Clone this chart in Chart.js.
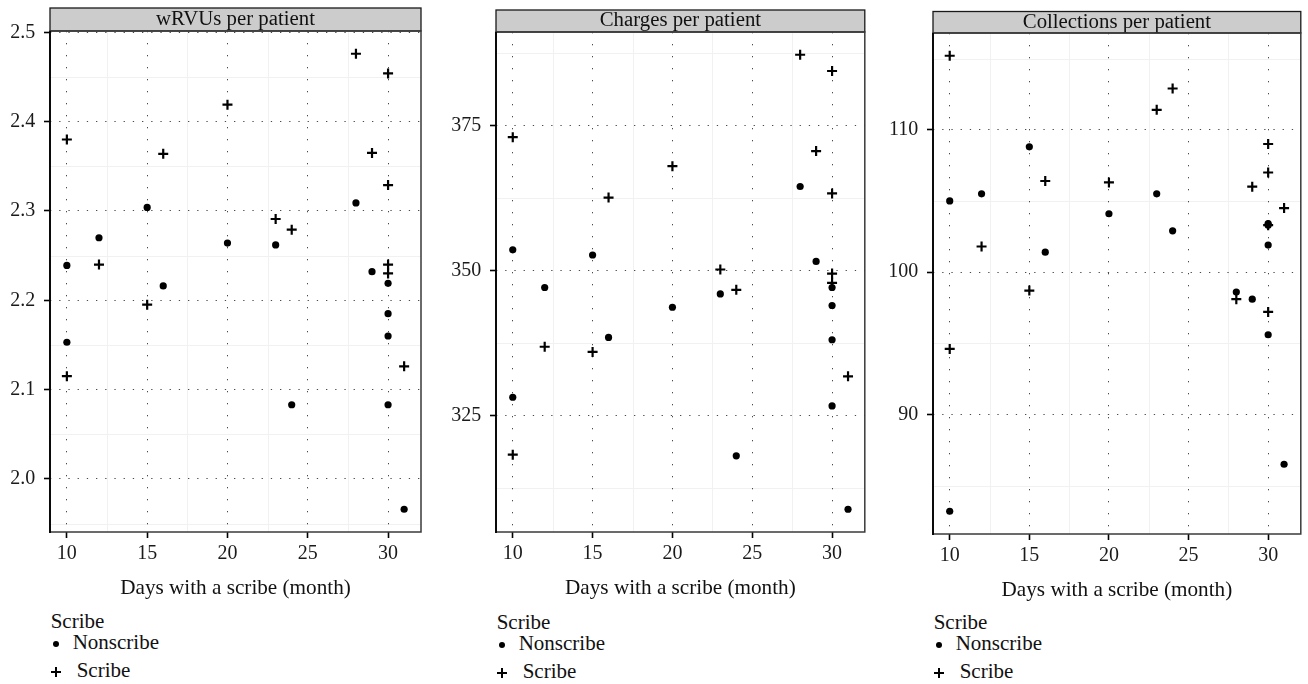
<!DOCTYPE html>
<html>
<head>
<meta charset="utf-8">
<script src="https://cdn.jsdelivr.net/npm/chart.js@4.4.0/dist/chart.umd.min.js"></script>
<style>
    body { margin: 0; background: #fff; width: 1308px; height: 684px; position: relative; overflow: hidden; font-family: "Liberation Serif", serif; }
    canvas { position: absolute; top: 0; }
    .leg { position: absolute; font-size: 21px; line-height: 20px; color: #111; white-space: nowrap; }
    .dot { position: absolute; width: 6px; height: 6px; border-radius: 50%; background: #000; }
    .plus { position: absolute; width: 10px; height: 10px; }
    .plus::before, .plus::after { content: ''; position: absolute; background: #000; }
    .plus::before { left: 0; top: 4px; width: 10px; height: 2px; }
    .plus::after { left: 4px; top: 0; width: 2px; height: 10px; }
</style>
</head>
<body>
<canvas id="c1"></canvas>
<canvas id="c2"></canvas>
<canvas id="c3"></canvas>

<script>
const SERIF = '"Liberation Serif", "Times New Roman", serif';

// days with a scribe in the month, one entry per point
const nonscribeDays = [10, 10, 12, 15, 16, 20, 23, 24, 28, 29, 30, 30, 30, 30, 31];
const scribeDays = [10, 10, 12, 15, 16, 20, 23, 24, 28, 29, 30, 30, 30, 30, 31];
const xTicks = [10, 15, 20, 25, 30];

const wrvuNonscribe = [2.239, 2.153, 2.270, 2.304, 2.216, 2.264, 2.262, 2.083, 2.309, 2.232, 2.219, 2.185, 2.160, 2.083, 1.966];
const wrvuScribe = [2.380, 2.115, 2.240, 2.195, 2.364, 2.419, 2.291, 2.279, 2.476, 2.365, 2.454, 2.329, 2.240, 2.230, 2.126];
const wrvuTicks = [2.0, 2.1, 2.2, 2.3, 2.4, 2.5];

const chargesNonscribe = [353.6, 328.2, 347.1, 352.7, 338.5, 343.7, 346.0, 318.1, 364.5, 351.6, 347.1, 344.0, 338.1, 326.7, 308.9];
const chargesScribe = [373.0, 318.3, 336.9, 336.0, 362.6, 368.0, 350.2, 346.7, 387.2, 370.6, 384.4, 363.3, 349.5, 347.9, 331.8];
const chargesTicks = [325, 350, 375];

const collectNonscribe = [105.0, 83.2, 105.5, 108.8, 101.4, 104.1, 105.5, 102.9, 98.6, 98.1, 103.4, 101.9, 95.6, 103.3, 86.5];
const collectScribe = [115.2, 94.6, 101.8, 98.7, 106.4, 106.3, 111.4, 112.9, 98.1, 106.0, 109.0, 107.0, 103.3, 97.2, 104.5];
const collectTicks = [90, 100, 110];

const seriesNames = ['Nonscribe', 'Scribe'];
const legendTitle = 'Scribe';
const xTitle = 'Days with a scribe (month)';

// ggplot style range: data range padded by 5% each side
function paddedRange(values) {
    const lo = Math.min(...values), hi = Math.max(...values);
    const pad = (hi - lo) * 0.05;
    return [lo - pad, hi + pad];
}

function halfSteps(ticks) {
    const step = ticks[1] - ticks[0];
    return ticks.map(v => v - step / 2).concat([ticks[ticks.length - 1] + step / 2]);
}

const [xMin, xMax] = paddedRange(nonscribeDays.concat(scribeDays));

const panels = [
    { id: 'c1', title: 'wRVUs per patient', non: wrvuNonscribe, scr: wrvuScribe, yTicks: wrvuTicks, digits: 1,
      left: 0, width: 430, axisW: 50, padR: 9, padT: 8, headH: 23, bottom: 532, legOff: 0 },
    { id: 'c2', title: 'Charges per patient', non: chargesNonscribe, scr: chargesScribe, yTicks: chargesTicks, digits: 0,
      left: 440, width: 432, axisW: 56, padR: 4, padT: 10, headH: 22, bottom: 532, legOff: 1 },
    { id: 'c3', title: 'Collections per patient', non: collectNonscribe, scr: collectScribe, yTicks: collectTicks, digits: 0,
      left: 870, width: 438, axisW: 63, padR: 2, padT: 11.5, headH: 21.5, bottom: 534, legOff: 1 }
];

// faint solid minor grid, drawn under the dotted major grid
const minorGrid = {
    id: 'minorGrid',
    beforeDraw(chart, args, opts) {
        const { ctx, chartArea: a, scales: { x, y } } = chart;
        ctx.save();
        ctx.strokeStyle = '#f1f1f1';
        ctx.lineWidth = 1;
        halfSteps(xTicks).filter(v => v > x.min && v < x.max).forEach(v => {
            const px = Math.round(x.getPixelForValue(v)) + 0.5;
            ctx.beginPath(); ctx.moveTo(px, a.top); ctx.lineTo(px, a.bottom); ctx.stroke();
        });
        halfSteps(opts.yTicks).filter(v => v > y.min && v < y.max).forEach(v => {
            const py = Math.round(y.getPixelForValue(v)) + 0.5;
            ctx.beginPath(); ctx.moveTo(a.left, py); ctx.lineTo(a.right, py); ctx.stroke();
        });
        // grey facet strip behind the title
        ctx.fillStyle = '#cccccc';
        ctx.fillRect(a.left, a.top - opts.headH, a.right - a.left, opts.headH);
        ctx.strokeStyle = '#1a1a1a';
        ctx.lineWidth = 1.3;
        ctx.strokeRect(a.left, a.top - opts.headH, a.right - a.left, opts.headH);
        ctx.restore();
    },
    afterDraw(chart) {
        const { ctx, chartArea: a } = chart;
        ctx.save();
        ctx.strokeStyle = '#3a3a3a';
        ctx.lineWidth = 1.5;
        ctx.strokeRect(a.left, a.top, a.right - a.left, a.bottom - a.top);
        ctx.strokeStyle = '#000';
        ctx.lineWidth = 1.8;
        ctx.beginPath(); ctx.moveTo(a.left, a.top); ctx.lineTo(a.left, a.bottom + 1); ctx.stroke();
        ctx.restore();
    }
};

function addLegend(p, chart) {
    const L = chart.chartArea.left + p.left + 0.7;
    const o = p.legOff;
    const add = (cls, text, left, top) => {
        const el = document.createElement('div');
        el.className = cls;
        if (text) el.textContent = text;
        el.style.left = left + 'px';
        el.style.top = top + 'px';
        document.body.appendChild(el);
    };
    add('leg', legendTitle, L, 611 + o);
    add('dot', '', L + 2, 641 + o);
    add('leg', seriesNames[0], L + 22, 632 + o);
    add('plus', '', L, 666.7 + o);
    add('leg', seriesNames[1], L + 26, 660 + o);
}

panels.forEach(p => {
    const canvas = document.getElementById(p.id);
    canvas.width = p.width;
    canvas.height = p.bottom + 70;
    canvas.style.left = p.left + 'px';

    const [yMin, yMax] = paddedRange(p.non.concat(p.scr));

    const chart = new Chart(canvas.getContext('2d'), {
        type: 'scatter',
        data: {
            datasets: [
                {
                    label: seriesNames[0],
                    data: nonscribeDays.map((d, i) => ({ x: d, y: p.non[i] })),
                    pointStyle: 'circle',
                    pointRadius: 3.6,
                    backgroundColor: '#000',
                    borderColor: '#000',
                    borderWidth: 0
                },
                {
                    label: seriesNames[1],
                    data: scribeDays.map((d, i) => ({ x: d, y: p.scr[i] })),
                    pointStyle: 'cross',
                    pointRadius: 5,
                    borderColor: '#000',
                    borderWidth: 2.2
                }
            ]
        },
        options: {
            responsive: false,
            animation: false,
            layout: { padding: { left: 0, right: p.padR, top: p.padT, bottom: 0 } },
            plugins: {
                legend: { display: false },
                tooltip: { enabled: false },
                title: {
                    display: true,
                    text: p.title,
                    fullSize: false,
                    color: '#111',
                    padding: 0,
                    font: { family: SERIF, size: 20.8, weight: 'normal', lineHeight: p.headH + 'px' }
                },
                minorGrid: { yTicks: p.yTicks, headH: p.headH }
            },
            scales: {
                x: {
                    type: 'linear',
                    min: xMin,
                    max: xMax,
                    afterBuildTicks: s => { s.ticks = xTicks.map(v => ({ value: v })); },
                    afterFit: s => { s.height = 70; },
                    grid: { color: '#4a4a4a', lineWidth: 1, tickColor: '#000', tickLength: 6, tickWidth: 1.6 },
                    border: { display: false, dash: [1.3, 10.7] },
                    ticks: { color: '#1a1a1a', padding: 3.7, font: { family: SERIF, size: 20 }, callback: v => v },
                    title: { display: true, text: xTitle, color: '#111', padding: { top: 0, bottom: 0.6 }, font: { family: SERIF, size: 21.2 } }
                },
                y: {
                    type: 'linear',
                    min: yMin,
                    max: yMax,
                    afterBuildTicks: s => { s.ticks = p.yTicks.map(v => ({ value: v })); },
                    afterFit: s => { s.width = p.axisW; },
                    grid: { color: '#4a4a4a', lineWidth: 1, tickColor: '#000', tickLength: 6, tickWidth: 1.6 },
                    border: { display: false, dash: [1.3, 7.9] },
                    ticks: { color: '#1a1a1a', padding: 8.7, font: { family: SERIF, size: 20 }, callback: v => v.toFixed(p.digits) }
                }
            }
        },
        plugins: [minorGrid]
    });

    addLegend(p, chart);
});
</script>
</body>
</html>
